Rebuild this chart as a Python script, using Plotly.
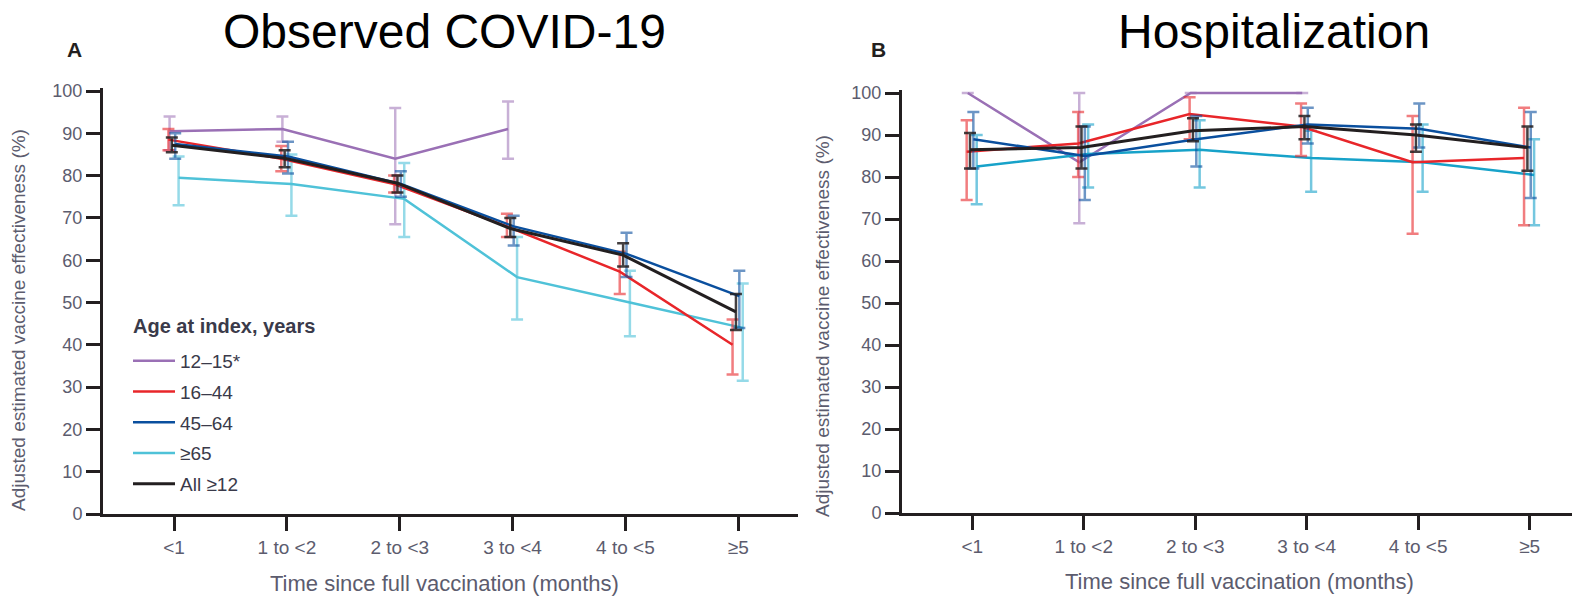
import plotly.graph_objects as go

# ---------------- data ----------------
categories = ["<1", "1 to <2", "2 to <3", "3 to <4", "4 to <5", "≥5"]
series_names = ["12–15*", "16–44", "45–64", "≥65", "All ≥12"]

# Panel A: observed COVID-19 (estimate, lower CI, upper CI)
a_12_15 = [90.5, 91.0, 84.0, 91.0, None, None]
a_12_15_lo = [86.0, 88.0, 68.5, 84.0, None, None]
a_12_15_hi = [94.0, 94.0, 96.0, 97.5, None, None]

a_16_44 = [88.5, 84.0, 78.0, 68.0, 57.3, 40.0]
a_16_44_lo = [86.0, 81.0, 76.0, 65.5, 52.0, 33.0]
a_16_44_hi = [91.0, 87.0, 80.0, 71.0, 62.0, 46.0]

a_45_64 = [87.5, 84.5, 78.0, 68.0, 61.5, 51.5]
a_45_64_lo = [84.0, 80.5, 75.0, 63.5, 56.0, 44.0]
a_45_64_hi = [90.0, 88.0, 81.0, 70.5, 66.5, 57.5]

a_65 = [79.5, 78.0, 74.5, 56.0, 50.0, 44.0]
a_65_lo = [73.0, 70.5, 65.5, 46.0, 42.0, 31.5]
a_65_hi = [84.5, 85.0, 83.0, 65.5, 57.5, 54.5]

a_all = [87.2, 84.1, 78.2, 67.5, 61.2, 47.8]
a_all_lo = [85.5, 82.0, 76.0, 65.5, 58.5, 43.5]
a_all_hi = [89.0, 86.0, 80.0, 70.0, 64.0, 52.0]

# Panel B: hospitalization
b_12_15 = [100.0, 83.5, 100.0, 100.0, None, None]
b_12_15_lo = [100.0, 69.0, 100.0, 100.0, None, None]
b_12_15_hi = [100.0, 100.0, 100.0, 100.0, None, None]

b_16_44 = [86.0, 88.0, 95.0, 92.0, 83.5, 84.5]
b_16_44_lo = [74.5, 80.0, 89.0, 85.0, 66.5, 68.5]
b_16_44_hi = [93.5, 95.5, 99.0, 97.5, 94.5, 96.5]

b_45_64 = [89.0, 85.0, 89.0, 92.5, 91.5, 87.0]
b_45_64_lo = [82.0, 74.5, 82.5, 88.0, 87.0, 75.0]
b_45_64_hi = [95.5, 92.0, 94.5, 96.5, 97.5, 95.5]

b_65 = [82.5, 85.5, 86.5, 84.5, 83.5, 80.5]
b_65_lo = [73.5, 77.5, 77.5, 76.5, 76.5, 68.5]
b_65_hi = [90.0, 92.5, 93.5, 91.0, 92.5, 89.0]

b_all = [86.5, 87.0, 91.0, 92.0, 90.0, 87.0]
b_all_lo = [82.0, 82.0, 88.5, 89.0, 86.0, 81.5]
b_all_hi = [90.5, 92.0, 94.0, 94.5, 92.5, 92.0]

y_ticks = [0, 10, 20, 30, 40, 50, 60, 70, 80, 90, 100]

# ---------------- styles ----------------
colors = ["#9a70b5", "#e8262a", "#0a4f9e", "#4fc2d8", "#231f20"]
colors_b = ["#9a70b5", "#e8262a", "#0a4f9e", "#17a2c9", "#231f20"]
err_alpha = [0.55, 0.6, 0.6, 0.6, 0.85]
widths = [2.5, 2.5, 2.5, 2.5, 3]
dodge = [-0.04, -0.05, 0.01, 0.04, -0.02]
W, H = 1583, 601
TXT = "#5c5c6e"
FONT = "Liberation Sans, Arial, sans-serif"

panel_a = [(a_12_15, a_12_15_lo, a_12_15_hi), (a_16_44, a_16_44_lo, a_16_44_hi),
           (a_45_64, a_45_64_lo, a_45_64_hi), (a_65, a_65_lo, a_65_hi),
           (a_all, a_all_lo, a_all_hi)]
panel_b = [(b_12_15, b_12_15_lo, b_12_15_hi), (b_16_44, b_16_44_lo, b_16_44_hi),
           (b_45_64, b_45_64_lo, b_45_64_hi), (b_65, b_65_lo, b_65_hi),
           (b_all, b_all_lo, b_all_hi)]


def rgba(hexc, a):
    h = hexc.lstrip("#")
    return f"rgba({int(h[0:2],16)},{int(h[2:4],16)},{int(h[4:6],16)},{a})"


fig = go.Figure()
for panel, (xa, ya, cols, show) in zip(
        [panel_a, panel_b],
        [("x", "y", colors, True), ("x2", "y2", colors_b, False)]):
    order = [0, 3, 1, 2, 4]
    for i in order:
        vals, lo, hi = panel[i]
        xs = [k + dodge[i] for k in range(len(categories))]
        up = [(h - v) if v is not None else None for v, h in zip(vals, hi)]
        dn = [(v - l) if v is not None else None for v, l in zip(vals, lo)]
        fig.add_trace(go.Scatter(
            x=xs, y=vals, xaxis=xa, yaxis=ya, mode="lines",
            name=series_names[i], showlegend=show, legendgroup=series_names[i],
            legendrank=i,
            line=dict(color=cols[i], width=widths[i]),
            error_y=dict(type="data", symmetric=False, array=up, arrayminus=dn,
                         color=rgba(cols[i], err_alpha[i]), thickness=2.5, width=6),
        ))

axis_common = dict(showline=True, linecolor="#231f20", linewidth=3, ticks="outside",
                   ticklen=14, tickwidth=3, tickcolor="#231f20", showgrid=False,
                   zeroline=False, automargin=False)
xfont = dict(family=FONT, size=19, color=TXT)
yfont = dict(family=FONT, size=18, color=TXT)

# geometry (pixels)
ax0, ax1, ay0 = 103, 798, 514
ppu_a = 4.23
bx0, bx1, by0 = 902, 1572, 513
ppu_b = 4.20
ymax = 100.6

fig.update_layout(
    width=W, height=H, paper_bgcolor="white", plot_bgcolor="white",
    margin=dict(l=0, r=0, t=0, b=0, autoexpand=False),
    xaxis=dict(domain=[ax0 / W, ax1 / W], range=[-0.63, 5.53], tickmode="array",
               tickvals=list(range(len(categories))), ticktext=categories,
               anchor="y", tickfont=xfont, **axis_common),
    yaxis=dict(domain=[(H - ay0) / H, (H - ay0 + ymax * ppu_a) / H], range=[0, ymax],
               tickmode="array", tickvals=y_ticks, anchor="x", tickfont=yfont,
               **axis_common),
    xaxis2=dict(domain=[bx0 / W, bx1 / W], range=[-0.63, 5.38], tickmode="array",
                tickvals=list(range(len(categories))), ticktext=categories,
                anchor="y2", tickfont=xfont, **axis_common),
    yaxis2=dict(domain=[(H - by0) / H, (H - by0 + ymax * ppu_b) / H], range=[0, ymax],
                tickmode="array", tickvals=y_ticks, anchor="x2", tickfont=yfont,
                **axis_common),
    legend=dict(x=128 / W, y=1 - 342 / H, xanchor="left", yanchor="top",
                bgcolor="rgba(0,0,0,0)",
                font=dict(family=FONT, size=19, color="#3a3a4a"),
                tracegroupgap=3, traceorder="grouped", itemwidth=42),
    showlegend=True,
)

annos = [
    dict(text="Observed COVID-19", x=444 / W, y=1 - 32 / H, font=dict(size=48, color="black")),
    dict(text="Hospitalization", x=1274 / W, y=1 - 32 / H, font=dict(size=48, color="black")),
    dict(text="<b>A</b>", x=74 / W, y=1 - 49 / H, font=dict(size=21, color="#231f20")),
    dict(text="<b>B</b>", x=878 / W, y=1 - 49 / H, font=dict(size=21, color="#231f20")),
    dict(text="Time since full vaccination (months)", x=444 / W, y=1 - 583 / H,
         font=dict(size=22, color=TXT)),
    dict(text="Time since full vaccination (months)", x=1239 / W, y=1 - 581 / H,
         font=dict(size=22, color=TXT)),
    dict(text="Adjusted estimated vaccine effectiveness (%)", x=18 / W, y=1 - 320 / H,
         textangle=-90, font=dict(size=19, color=TXT)),
    dict(text="Adjusted estimated vaccine effectiveness (%)", x=822 / W, y=1 - 326 / H,
         textangle=-90, font=dict(size=19, color=TXT)),
    dict(text="<b>Age at index, years</b>", x=131 / W, y=1 - 326 / H, xanchor="left",
         font=dict(size=20, color="#3a3a4a")),
]
for a in annos:
    a.setdefault("xref", "paper")
    a.setdefault("yref", "paper")
    a["showarrow"] = False
    a.setdefault("xanchor", "center")
    a["yanchor"] = "middle"
    a["font"]["family"] = FONT
    fig.add_annotation(**a)

fig.write_html("out.html", post_script="document.body.style.margin='0';",
               config={"displayModeBar": False})
